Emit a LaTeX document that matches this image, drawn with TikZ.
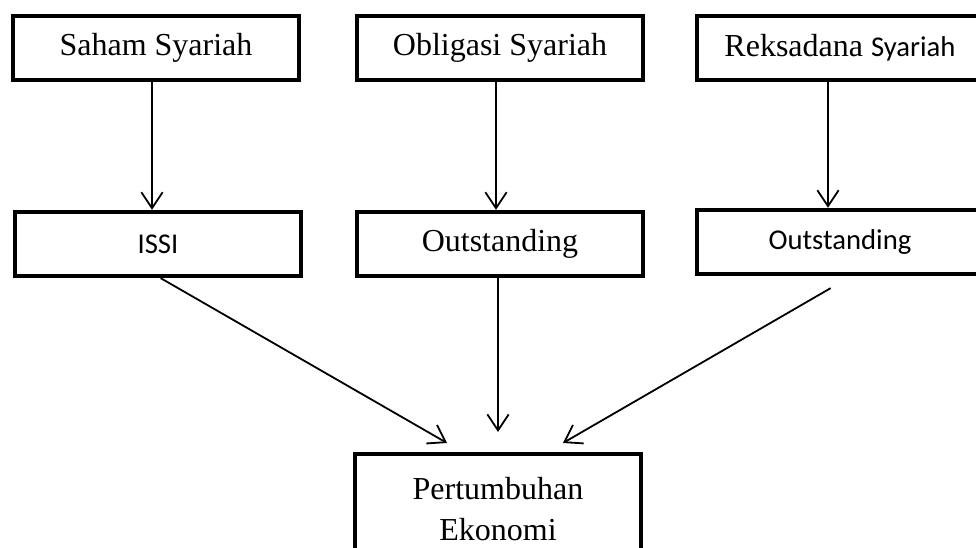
\documentclass[tikz,border=0pt]{standalone}
\usepackage{fontspec}
\setmainfont{Liberation Serif}
\newfontfamily\calibri{Carlito}
\usetikzlibrary{arrows.meta}
\tikzstyle{kotak}=[draw, line width=3.2pt, minimum width=214.5pt, minimum height=48pt, inner sep=0, font=\fontsize{24}{30}\selectfont]
\tikzstyle{panah}=[line width=1.35pt, -{Straight Barb[length=12pt,width=16pt]}]

\begin{document}
\begin{tikzpicture}[x=0.75pt,y=-0.75pt]
\useasboundingbox (0,0) rectangle (976,548);
\node[kotak] (saham) at (156,48) {Saham Syariah};
\node[kotak] (obligasi) at (500,48) {Obligasi Syariah};
\node[kotak] (reksa) at (840,48) {Reksadana {\calibri\fontsize{21.5}{26}\selectfont Syariah}};
\node[kotak, font=\calibri\fontsize{21.5}{26}\selectfont] (issi) at (158,244) {ISSI};
\node[kotak] (outobl) at (500,244) {Outstanding};
\node[kotak, font=\calibri\fontsize{21.5}{26}\selectfont] (outreks) at (840,242) {Outstanding};
\node[kotak, minimum height=82.5pt, align=center, font=\fontsize{24}{31}\selectfont] (pe) at (498,509) {Pertumbuhan\\Ekonomi};
\coordinate (kiri) at (447,443);
\coordinate (tengah) at (498,432);
\coordinate (kanan) at (563,443);
\draw[panah] ([xshift=-3pt]saham.south) -- ([xshift=-3pt]saham.south |- issi.north);
\draw[panah] ([xshift=-3pt]obligasi.south) -- ([xshift=-3pt]obligasi.south |- outobl.north);
\draw[panah] ([xshift=-9pt]reksa.south) -- ([xshift=-9pt]reksa.south |- outreks.north);
\draw[panah] ([xshift=2pt]issi.south) -- (kiri);
\draw[panah] (tengah |- outobl.south) -- (tengah);
\draw[panah] ([shift={(-7pt,-9pt)}]outreks.south) -- (kanan);
\end{tikzpicture}
\end{document}
